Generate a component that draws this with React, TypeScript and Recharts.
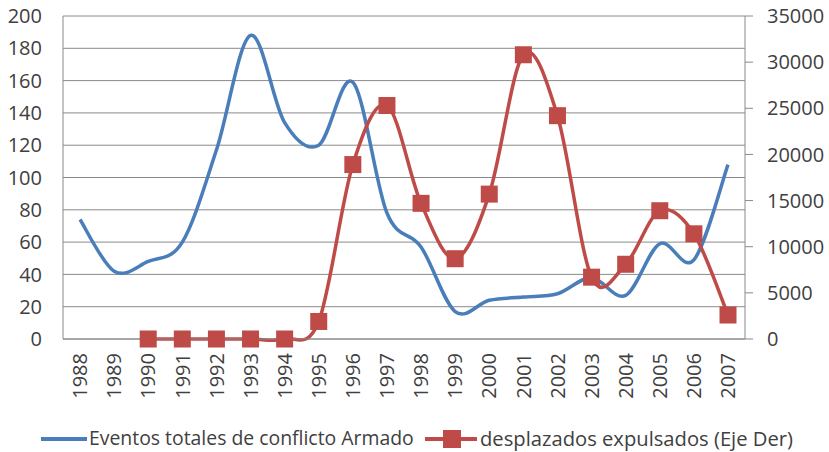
import React from 'react';
import { LineChart, Line, XAxis, YAxis, CartesianGrid, Legend } from 'recharts';

const years = ['1988', '1989', '1990', '1991', '1992', '1993', '1994', '1995', '1996', '1997', '1998', '1999', '2000', '2001', '2002', '2003', '2004', '2005', '2006', '2007'];
const eventos = [74, 42, 48, 60, 117, 188, 134, 120, 159, 78, 57, 17, 24, 26, 28, 38, 27, 59, 49, 108];
const desplazados = [null, null, 0, 0, 0, 0, 0, 1900, 18900, 25300, 14700, 8700, 15700, 30800, 24200, 6700, 8100, 13900, 11400, 2600];
const leftTicks = [0, 20, 40, 60, 80, 100, 120, 140, 160, 180, 200];
const rightTicks = [0, 5000, 10000, 15000, 20000, 25000, 30000, 35000];
const seriesNames = ['Eventos totales de conflicto Armado', 'desplazados expulsados (Eje Der)'];

const data = years.map((y, i) => ({ year: y, eventos: eventos[i], desplazados: desplazados[i] }));

const BLUE = '#4A7EBB';
const RED = '#BE4B48';
const GRID = '#8a8a8a';
const TXT = '#404040';
const FONT = '"Open Sans", "Liberation Sans", sans-serif';

// Excel-like smoothing (Catmull-Rom as cubic Bezier)
function excelCurve(context: any) {
  let pts: number[][] = [];
  return {
    areaStart() {},
    areaEnd() {},
    lineStart() { pts = []; },
    point(x: number, y: number) { pts.push([+x, +y]); },
    lineEnd() {
      const n = pts.length;
      if (!n) return;
      context.moveTo(pts[0][0], pts[0][1]);
      for (let i = 0; i < n - 1; i++) {
        const p0 = pts[i - 1] || pts[i];
        const p1 = pts[i];
        const p2 = pts[i + 1];
        const p3 = pts[i + 2] || p2;
        const c1x = p1[0] + (p2[0] - p0[0]) / 6;
        const c1y = p1[1] + (p2[1] - p0[1]) / 6;
        const c2x = p2[0] - (p3[0] - p1[0]) / 6;
        const c2y = p2[1] - (p3[1] - p1[1]) / 6;
        context.bezierCurveTo(c1x, c1y, c2x, c2y, p2[0], p2[1]);
      }
    },
  };
}

const XTick = (props: any) => {
  const { x, y, payload } = props;
  return (
    <text
      x={x}
      y={y + 14}
      transform={`rotate(-90, ${x}, ${y + 14})`}
      textAnchor="end"
      dy="0.36em"
      fill={TXT}
      fontSize={20}
      fontFamily={FONT}
    >
      {payload.value}
    </text>
  );
};

const SquareDot = (props: any) => {
  const { cx, cy, index } = props;
  if (cx == null || cy == null || props.value == null || (Array.isArray(props.value) && props.value[1] == null)) {
    return <g key={`d-${index}`} />;
  }
  const s = 17;
  return <rect key={`d-${index}`} x={cx - s / 2} y={cy - s / 2} width={s} height={s} fill={RED} />;
};

const textStyle = (size: number, left: number): React.CSSProperties => ({
  position: 'absolute',
  left,
  top: 19,
  height: 26,
  lineHeight: '26px',
  fontSize: size,
  fontFamily: FONT,
  color: TXT,
  whiteSpace: 'nowrap',
});

const LegendContent = () => (
  <div style={{ position: 'relative', width: 829, height: 46 }}>
    <div style={{ position: 'absolute', left: 41, top: 31, width: 46, height: 4, background: BLUE }} />
    <span style={textStyle(19.4, 89)}>{seriesNames[0]}</span>
    <div style={{ position: 'absolute', left: 425, top: 31, width: 52, height: 4, background: RED }} />
    <div style={{ position: 'absolute', left: 443, top: 24, width: 18, height: 18, background: RED }} />
    <span style={textStyle(20.2, 480)}>{seriesNames[1]}</span>
  </div>
);

export default function App() {
  return (
    <div style={{ position: 'absolute', left: 0, top: 0, width: 829, height: 452, background: '#fff' }}>
      <LineChart width={829} height={452} data={data} margin={{ top: 16, right: 0, bottom: 0, left: 0 }}>
        <CartesianGrid yAxisId="left" vertical={false} stroke={GRID} strokeWidth={1} />
        <XAxis
          dataKey="year"
          interval={0}
          height={67}
          padding={{ left: 17, right: 17 }}
          tick={<XTick />}
          tickLine={false}
          tickSize={0}
          tickMargin={0}
          axisLine={{ stroke: GRID }}
        />
        <YAxis
          yAxisId="left"
          width={63}
          domain={[0, 200]}
          ticks={leftTicks}
          tickLine={false}
          tickSize={0}
          tickMargin={21}
          axisLine={{ stroke: GRID }}
          tick={{ fill: TXT, fontSize: 20, fontFamily: FONT }}
          interval={0}
        />
        <YAxis
          yAxisId="right"
          orientation="right"
          width={84}
          domain={[0, 35000]}
          ticks={rightTicks}
          tickLine={{ stroke: GRID }}
          tickSize={8}
          tickMargin={14}
          axisLine={{ stroke: GRID }}
          tick={{ fill: TXT, fontSize: 20, fontFamily: FONT }}
          interval={0}
        />
        <Legend verticalAlign="bottom" height={46} content={<LegendContent />} />
        <Line
          yAxisId="left"
          dataKey="eventos"
          name={seriesNames[0]}
          type={excelCurve as any}
          stroke={BLUE}
          strokeWidth={3.5}
          dot={false}
          activeDot={false}
          isAnimationActive={false}
        />
        <Line
          yAxisId="right"
          dataKey="desplazados"
          name={seriesNames[1]}
          type={excelCurve as any}
          stroke={RED}
          strokeWidth={3.5}
          dot={(p: any) => <SquareDot {...p} />}
          activeDot={false}
          isAnimationActive={false}
        />
      </LineChart>
    </div>
  );
}
